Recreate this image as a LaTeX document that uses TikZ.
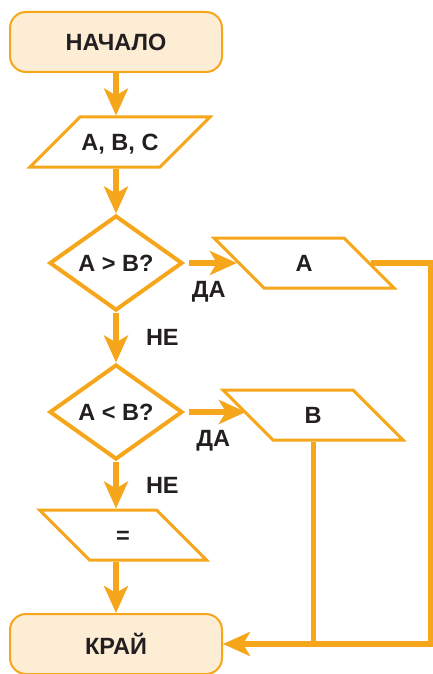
\documentclass[tikz,border=0pt]{standalone}
\usepackage{fontspec}
\setmainfont{Liberation Sans}
\usepackage{tikz}
\usetikzlibrary{arrows.meta,shapes.geometric,positioning}

\definecolor{orng}{RGB}{246,166,27}
\definecolor{cream}{RGB}{253,237,213}
\definecolor{ink}{RGB}{35,31,32}

\tikzset{
  term/.style={draw=orng, line width=2pt, fill=cream, rounded corners=16pt,
    minimum width=212pt, minimum height=60pt},
  io/.style={trapezium, draw=orng, line width=3pt, trapezium stretches body,
    text height=16pt, text depth=0pt, inner xsep=0pt, inner ysep=17pt,
    minimum width=180pt},
  cond/.style={diamond, draw=orng, line width=4pt, minimum width=133pt,
    minimum height=95pt, inner sep=0pt},
  flow/.style={draw=orng, line width=6pt, -{Stealth[length=27pt,width=24pt,inset=7pt]}},
  wire/.style={draw=orng, line width=5pt},
  lbl/.style={inner sep=0pt, text=ink}
}

\begin{document}
\begin{tikzpicture}[x=1pt, y=-1pt, font=\fontsize{23.5}{28}\selectfont\bfseries, text=ink]
    \useasboundingbox (0,0) rectangle (433,674);

    \node[term] (start) at (116,42) {НАЧАЛО};
    \node[io, trapezium left angle=45, trapezium right angle=135] (inp) at (120,142) {А, В, С};
    \node[cond] (ifgt) at (116,263) {А > В?};
    \node[io, trapezium left angle=135, trapezium right angle=45] (outa) at (304,263) {А};
    \node[cond] (iflt) at (116,412) {А < В?};
    \node[io, trapezium left angle=135, trapezium right angle=45] (outb) at (313,415) {В};
    \node[io, trapezium left angle=135, trapezium right angle=45, minimum width=167pt] (outeq) at (123,535) {=};
    \node[term] (stop) at (116,644) {КРАЙ};
    \coordinate (rbot) at (431,644);

    \draw[flow] (start) -- (start |- inp.north);
    \draw[flow] (inp.south -| start) -- (ifgt.north);
    \draw[flow, shorten <=4pt] (ifgt.east) -- (ifgt.east -| outa.west)
        node[lbl, midway, below=15pt, xshift=-2pt] {ДА};
    \draw[flow] (ifgt) -- (iflt) node[lbl, midway, right=27pt] {НЕ};
    \draw[flow, shorten <=4pt] (iflt.east) -- (iflt.east -| outb.west)
        node[lbl, midway, below=15pt, xshift=-2pt] {ДА};
    \draw[flow] (iflt) -- (iflt |- outeq.north) node[lbl, midway, right=27pt] {НЕ};
    \draw[flow] (outeq.south -| stop) -- (stop);
    % both outputs join before the end
    \draw[wire] (outb.center |- outb.south) -- (outb.center |- stop.east);
    \draw[flow] (outa.east) -- (outa.east -| rbot) -- (rbot) -- (stop.east);
\end{tikzpicture}
\end{document}
